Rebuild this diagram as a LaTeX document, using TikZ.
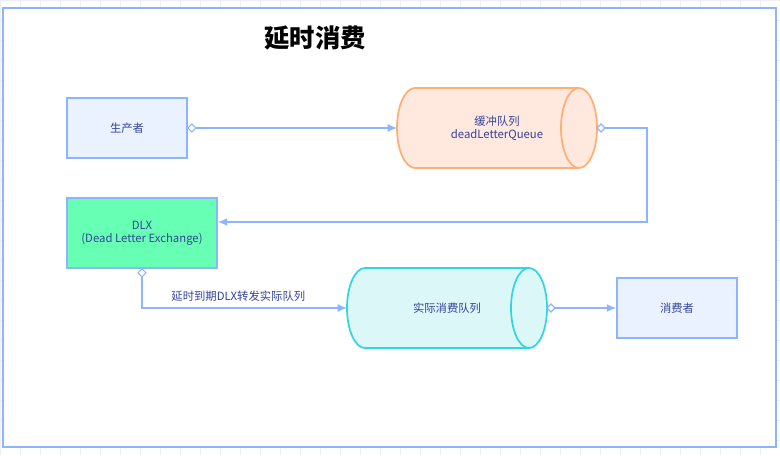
\documentclass[tikz,border=0pt]{standalone}
\usepackage{fontspec}
\setmainfont{Noto Sans CJK SC}
\begin{document}
\begin{tikzpicture}[x=0.75pt,y=-0.75pt,
 lbl/.style={font=\fontsize{8.5}{10}\selectfont,text=txt,align=center},
 box/.style={draw=edge,line width=1.3pt,minimum width=90pt,minimum height=45pt,inner sep=0pt,lbl},
 conn/.style={draw=edge,line width=1.1pt,-{Latex[length=7pt,width=6pt]}},
 dia/.style={draw=edge,fill=white,line width=0.9pt}]
\definecolor{edge}{HTML}{8FB4FF}
\definecolor{txt}{HTML}{34459A}
\definecolor{grid}{HTML}{EDEFF5}
\definecolor{lbox}{HTML}{EAF1FF}
\usetikzlibrary{arrows.meta}
\useasboundingbox (0,0) rectangle (780,455);
\foreach \i in {0,20,...,780} \draw[grid,line width=0.4pt] (\i,0)--(\i,455);
\foreach \j in {0,20,...,455} \draw[grid,line width=0.4pt] (0,\j)--(780,\j);
\draw[edge,line width=1pt,fill=white] (3,8) rectangle (776,447);
\node[font=\bfseries\fontsize{19}{22}\selectfont] (title) at (315,38) {延时消费};
\node[box,fill=lbox] (prod) at (127,128) {生产者};
\node[box,fill={rgb,255:red,102;green,255;blue,179},minimum width=112.5pt,minimum height=52.5pt] (dlx) at (142,233) {DLX\\(Dead Letter Exchange)};
\node[box,fill=lbox] (cons) at (677,308) {消费者};
% cylinder 1
\draw[draw={rgb,255:red,255;green,175;blue,115},fill={rgb,255:red,255;green,232;blue,222},line width=1.3pt]
 (415,88) -- (579,88) arc[start angle=90,end angle=-90,x radius=13.5pt,y radius=30pt] -- (415,168) arc[start angle=270,end angle=90,x radius=13.5pt,y radius=30pt] -- cycle;
\draw[draw={rgb,255:red,255;green,175;blue,115},line width=1.3pt] (579,88) arc[start angle=90,end angle=270,x radius=13.5pt,y radius=30pt];
\node[lbl,minimum width=150pt,minimum height=60pt] (q1) at (497,128) {缓冲队列\\deadLetterQueue};
% cylinder 2
\draw[draw={rgb,255:red,51;green,214;blue,224},fill={rgb,255:red,220;green,247;blue,247},line width=1.3pt]
 (365,268) -- (529,268) arc[start angle=90,end angle=-90,x radius=13.5pt,y radius=30pt] -- (365,348) arc[start angle=270,end angle=90,x radius=13.5pt,y radius=30pt] -- cycle;
\draw[draw={rgb,255:red,51;green,214;blue,224},line width=1.3pt] (529,268) arc[start angle=90,end angle=270,x radius=13.5pt,y radius=30pt];
\node[lbl,minimum width=150pt,minimum height=60pt] (q2) at (447,308) {实际消费队列};
\coordinate (q1w) at (397,128); \coordinate (q1e) at (597,128);
\coordinate (q2w) at (347,308); \coordinate (q2e) at (547,308);
\draw[conn] (prod.east) -- (q1w);
\draw[conn] (q1e) -- (647,128) -- (647,222) -- (dlx.east |- 0,222);
\draw[conn] (dlx.south) -- (142,308) -- (q2w) node[pos=0.47,above,lbl,yshift=1pt] {延时到期DLX转发实际队列};
\draw[conn] (q2e) -- (cons.west);
\foreach \p in {(prod.east),(q1e),(q2e)}
 \draw[dia,shift={\p}] (0,0) -- (4,-4) -- (8,0) -- (4,4) -- cycle;
\draw[dia,shift={(dlx.south)}] (0,0) -- (4,4) -- (0,8) -- (-4,4) -- cycle;
\end{tikzpicture}
\end{document}
